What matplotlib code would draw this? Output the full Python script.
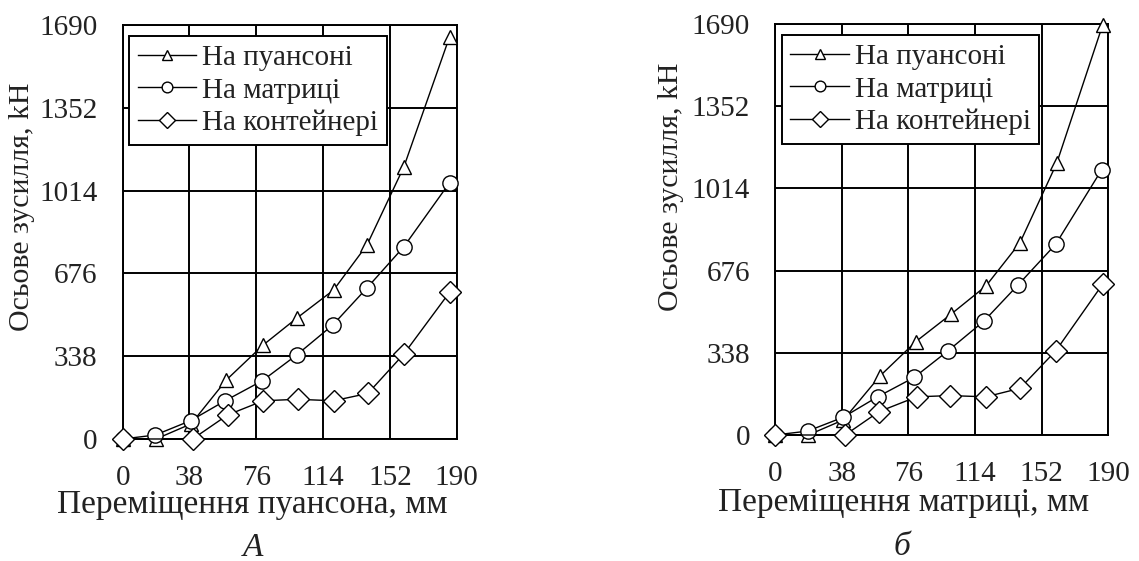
import matplotlib
matplotlib.use("Agg")
import matplotlib.pyplot as plt

plt.rcParams['font.family'] = ['Liberation Serif', 'DejaVu Serif']

# data (x in mm, y in kN)
y_ticks = [0, 338, 676, 1014, 1352, 1690]
x_ticks = [0, 38, 76, 114, 152, 190]
labels = ['На пуансоні', 'На матриці', 'На контейнері']
y_title = 'Осьове зусилля, kH'

# panel A: displacement of the punch
a_x_punch = [0, 19, 39, 59, 80, 99, 120, 139, 160, 186]
a_y_punch = [0, 0, 62, 241, 384, 493, 608, 792, 1111, 1642]
a_x_die = [0, 18.5, 38.7, 58.3, 79.5, 99, 119.5, 138.8, 160, 186]
a_y_die = [0, 16, 75, 156, 238, 343, 465, 615, 785, 1046]
a_x_cont = [0, 39.8, 59.7, 80, 99.5, 120, 139.5, 160, 186]
a_y_cont = [0, 0, 98, 156, 162, 156, 186, 347, 599]

# panel б: displacement of the die
b_x_punch = [0, 19, 39, 59.9, 80.3, 100.4, 120.3, 139.7, 160.6, 186.8]
b_y_punch = [0, 0, 62, 243, 384, 497, 613, 791, 1117, 1686]
b_x_die = [0, 18.6, 38.9, 58.5, 79.4, 98.8, 119.2, 138.7, 160, 186.2]
b_y_die = [0, 16, 73, 157, 237, 347, 469, 618, 784, 1090]
b_x_cont = [0, 40, 59.3, 80.8, 99.8, 120.3, 139.7, 160.2, 186.8]
b_y_cont = [0, 0, 96, 157, 162, 157, 192, 347, 620]

W, H = 1139, 561
fig = plt.figure(figsize=(W / 100, H / 100), dpi=100)
ax_a = fig.add_axes([0.1077, 0.2175, 0.2932, 0.738])
ax_b = fig.add_axes([0.6804, 0.2246, 0.2926, 0.7326])

txt_color = '#222222'

panels = [
    (ax_a, (a_x_punch, a_y_punch), (a_x_die, a_y_die), (a_x_cont, a_y_cont),
     'Переміщення пуансона, мм', (252, 505), (22, 207), 'А', (253, 548)),
    (ax_b, (b_x_punch, b_y_punch), (b_x_die, b_y_die), (b_x_cont, b_y_cont),
     'Переміщення матриці, мм', (904, 503), (671, 187), 'б', (902, 547)),
]

for ax, punch, die, cont, xlab, xl_pos, yl_pos, cap, cap_pos in panels:
    ax.plot(*punch, color='black', lw=1.0, marker='^', ms=9.5,
            mfc='white', mec='black', mew=1.0, label=labels[0], zorder=3,
            clip_on=False)
    ax.plot(*die, color='black', lw=1.0, marker='o', ms=11,
            mfc='white', mec='black', mew=1.0, label=labels[1], zorder=4,
            clip_on=False)
    ax.plot(*cont, color='black', lw=1.0, marker='D', ms=11,
            mfc='white', mec='black', mew=1.0, label=labels[2], zorder=5,
            clip_on=False)

    ax.set_xlim(0, 190)
    ax.set_ylim(0, 1690)
    ax.set_xticks(x_ticks)
    ax.set_yticks(y_ticks)
    ax.grid(True, color='black', lw=1.4)
    ax.set_axisbelow(True)
    for s in ax.spines.values():
        s.set_color('black')
        s.set_linewidth(1.4)
    ax.tick_params(length=0, labelsize=21, colors=txt_color)
    ax.tick_params(axis='x', pad=19)
    ax.tick_params(axis='y', pad=18)

    leg = ax.legend(loc='upper left', bbox_to_anchor=(0.02, 0.973),
                    fontsize=21, frameon=True, fancybox=False,
                    handlelength=2.0, handletextpad=0.2, markerscale=0.7,
                    borderpad=0.3, labelspacing=0.2, borderaxespad=0.0)
    leg.get_frame().set_edgecolor('black')
    leg.get_frame().set_linewidth(1.4)
    leg.get_frame().set_alpha(1.0)
    for t in leg.get_texts():
        t.set_color(txt_color)

    fig.text(xl_pos[0] / W, 1 - xl_pos[1] / H, xlab, fontsize=24,
             ha='center', va='center', color=txt_color)
    fig.text(yl_pos[0] / W, 1 - yl_pos[1] / H, y_title, fontsize=21.5,
             rotation=90, ha='center', va='center', color=txt_color)
    fig.text(cap_pos[0] / W, 1 - cap_pos[1] / H, cap, fontsize=24,
             style='italic', ha='center', va='center', color=txt_color)

fig.savefig('out.png', dpi=100, facecolor='white')
